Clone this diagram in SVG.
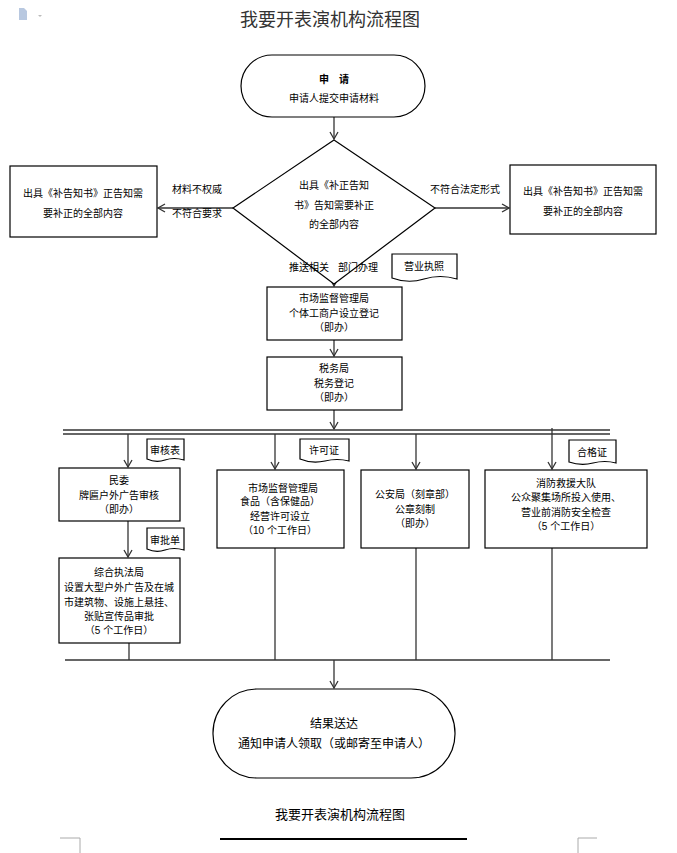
<svg xmlns="http://www.w3.org/2000/svg" width="677" height="853" viewBox="0 0 677 853">
<defs>
<style>
text{font-family:"Liberation Sans","Noto Sans CJK SC",sans-serif;font-size:10px;fill:#000;text-anchor:middle}
.s{fill:#fff;stroke:#000;stroke-width:1.2}
.c line,.c path{stroke:#333;stroke-width:1.3;fill:none}
.a{marker-end:url(#ar)}
</style>
<marker id="ar" markerWidth="10" markerHeight="10" refX="8" refY="5" orient="auto" markerUnits="userSpaceOnUse"><path d="M1,1 L8,5 L1,9" fill="none" stroke="#333" stroke-width="1.3"/></marker>
</defs>
<rect width="677" height="853" fill="#fff"/>
<g id="icon"><path d="M19,8 h5 l3,3 v9 h-8 z" fill="#b8c8e0"/><path d="M38,15 l2,2 l2,-2z" fill="#bbb"/></g>
<text x="330" y="26" style="font-size:18px;fill:#333">我要开表演机构流程图</text>
<g class="c">
<line class="a" x1="334" y1="117" x2="334" y2="139"/>
<line class="a" x1="233" y1="208" x2="158" y2="208"/>
<line class="a" x1="435" y1="208" x2="509" y2="208"/>
<line class="a" x1="334" y1="284" x2="334" y2="286"/>
<line x1="334" y1="270" x2="334" y2="284"/>
<line class="a" x1="334" y1="340" x2="334" y2="356"/>
<line class="a" x1="334" y1="410" x2="334" y2="429"/>
<line x1="63" y1="430" x2="610" y2="430"/>
<line x1="63" y1="434" x2="610" y2="434"/>
<line class="a" x1="128" y1="434" x2="128" y2="467"/>
<line class="a" x1="275" y1="434" x2="275" y2="469"/>
<line class="a" x1="416" y1="434" x2="416" y2="469"/>
<line class="a" x1="552" y1="428" x2="552" y2="469"/>
<line class="a" x1="128" y1="521" x2="128" y2="557"/>
<line x1="129" y1="643" x2="129" y2="660"/>
<line x1="275" y1="548" x2="275" y2="660"/>
<line x1="416" y1="548" x2="416" y2="660"/>
<line x1="552" y1="548" x2="552" y2="660"/>
<line x1="65" y1="660" x2="610" y2="660"/>
<line class="a" x1="334" y1="660" x2="334" y2="688"/>
</g>
<g id="start"><rect class="s" x="241" y="55" width="184" height="62" rx="31"/><text x="334" y="83" style="font-weight:bold">申　请</text><text x="334" y="102">申请人提交申请材料</text></g>
<g id="decision"><path class="s" d="M334,140 L435,208 L334,284 L233,208 Z"/><text x="334" y="189">出具《补正告知</text><text x="334" y="209">书》告知需要补正</text><text x="334" y="228">的全部内容</text></g>
<g id="left"><rect class="s" x="10" y="166" width="147" height="71"/><text x="83" y="197">出具《补告知书》正告知需</text><text x="83" y="217">要补正的全部内容</text></g>
<text x="197" y="193">材料不权威</text><text x="197" y="217">不符合要求</text>
<g id="right"><rect class="s" x="510" y="165" width="146" height="69"/><text x="583" y="195">出具《补告知书》正告知需</text><text x="583" y="215">要补正的全部内容</text></g>
<text x="465" y="193">不符合法定形式</text>
<text x="309" y="271">推送相关</text><text x="358" y="271">部门办理</text>
<g id="doc1"><path class="s" d="M392,254 H457 V279 Q440,274 424,279 Q408,284 392,278 Z"/><text x="424" y="270">营业执照</text></g>
<g id="box1"><rect class="s" x="267" y="287" width="135" height="53"/><text x="334" y="302">市场监督管理局</text><text x="334" y="317">个体工商户设立登记</text><text x="334" y="331">（即办）</text></g>
<g id="box2"><rect class="s" x="267" y="357" width="135" height="53"/><text x="334" y="372">税务局</text><text x="334" y="387">税务登记</text><text x="334" y="401">（即办）</text></g>
<g id="doc2"><path class="s" d="M147,439 H184 V460 Q174,457 165,460 Q156,463 147,459 Z"/><text x="165" y="454">审核表</text></g>
<g id="doc3"><path class="s" d="M300,439 H349 V461 Q337,458 325,461 Q312,464 300,459 Z"/><text x="324" y="454">许可证</text></g>
<g id="doc4"><path class="s" d="M569,440 H616 V463 Q605,460 593,463 Q581,466 569,462 Z"/><text x="592" y="456">合格证</text></g>
<g id="doc5"><path class="s" d="M147,528 H184 V550 Q174,547 165,550 Q156,553 147,549 Z"/><text x="165" y="544">审批单</text></g>
<g id="minwei"><rect class="s" x="59" y="468" width="121" height="53"/><text x="119" y="484">民委</text><text x="119" y="499">牌匾户外广告审核</text><text x="119" y="513">（即办）</text></g>
<g id="zonghe"><rect class="s" x="59" y="558" width="121" height="85"/><text x="119" y="576">综合执法局</text><text x="119" y="591">设置大型户外广告及在城</text><text x="119" y="606">市建筑物、设施上悬挂、</text><text x="119" y="620">张贴宣传品审批</text><text x="119" y="634">（5 个工作日）</text></g>
<g id="shichang"><rect class="s" x="217" y="470" width="127" height="78"/><text x="283" y="492">市场监督管理局</text><text x="280" y="505">食品（含保健品）</text><text x="280" y="520">经营许可设立</text><text x="280" y="534">（10 个工作日）</text></g>
<g id="gongan"><rect class="s" x="361" y="470" width="108" height="78"/><text x="415" y="498">公安局（刻章部）</text><text x="415" y="513">公章刻制</text><text x="415" y="527">（即办）</text></g>
<g id="xiaofang"><rect class="s" x="485" y="470" width="162" height="78"/><text x="566" y="487">消防救援大队</text><text x="566" y="501">公众聚集场所投入使用、</text><text x="566" y="516">营业前消防安全检查</text><text x="566" y="530">（5 个工作日）</text></g>
<g id="end"><rect class="s" x="213" y="689" width="242" height="89" rx="44"/><text x="334" y="728" style="font-size:12px">结果送达</text><text x="334" y="748" style="font-size:12px">通知申请人领取（或邮寄至申请人）</text></g>
<text x="340" y="819" style="font-size:13px">我要开表演机构流程图</text>
<line x1="220" y1="839" x2="467" y2="839" stroke="#000" stroke-width="2"/>
<path d="M60,838 H80 V853 M597,838 H578 V853" stroke="#aaa" fill="none"/>
</svg>
